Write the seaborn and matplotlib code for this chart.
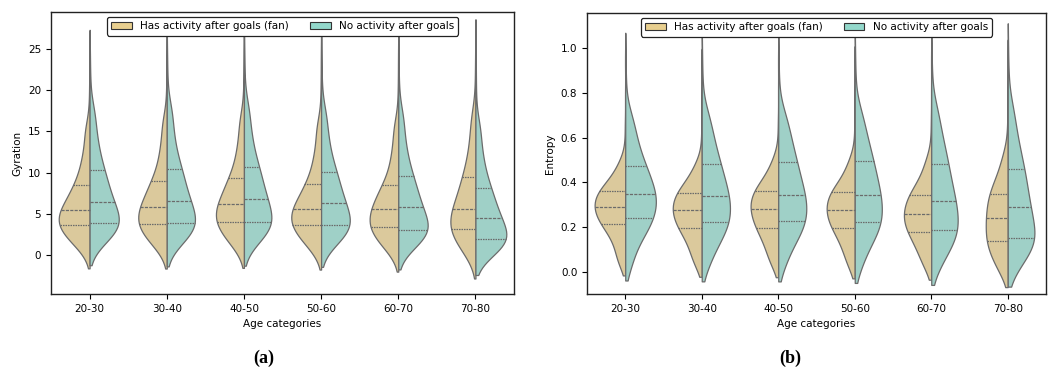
import numpy as np
import pandas as pd
import matplotlib
matplotlib.use("Agg")
import matplotlib.pyplot as plt
from matplotlib.patches import Patch
import seaborn as sns

# ---------------- data (quantile values) ----------------
age_groups = ["20-30", "30-40", "40-50", "50-60", "60-70", "70-80"]
group_names = ["Has activity after goals (fan)", "No activity after goals"]

# how many observations each listed quantile value stands for
# (20 body quantiles of 5% each, then 4 sparse upper-tail values)
point_counts = [20, 20, 20, 20, 20, 20, 20, 20, 20, 20,
                20, 20, 20, 20, 20, 20, 20, 20, 20, 20,
                3, 2, 1, 1]

gyration_fan = [
    [0.9, 1.7, 2.3, 2.8, 3.2, 3.6, 3.95, 4.3, 4.7, 5.1, 5.46, 5.95, 6.5, 7.1, 7.75, 8.5, 9.5, 10.8, 12.5, 15.0, 17.5, 20.0, 22.5, 24.5],
    [1.0, 1.8, 2.4, 2.9, 3.35, 3.76, 4.15, 4.6, 5.0, 5.45, 5.87, 6.4, 7.0, 7.65, 8.3, 9.02, 10.1, 11.5, 13.3, 15.8, 18.0, 20.5, 22.5, 24.5],
    [1.1, 1.9, 2.6, 3.1, 3.6, 4.04, 4.45, 4.85, 5.3, 5.7, 6.15, 6.7, 7.3, 7.95, 8.6, 9.34, 10.4, 11.8, 13.6, 16.1, 18.5, 20.5, 22.5, 24.5],
    [0.8, 1.6, 2.3, 2.8, 3.25, 3.68, 4.05, 4.45, 4.85, 5.25, 5.62, 6.1, 6.65, 7.25, 7.9, 8.62, 9.7, 11.0, 12.8, 15.3, 17.5, 20.0, 22.5, 24.5],
    [0.6, 1.4, 2.05, 2.55, 3.0, 3.4, 3.8, 4.25, 4.7, 5.1, 5.54, 6.05, 6.6, 7.2, 7.85, 8.5, 9.6, 11.0, 12.8, 15.3, 17.5, 20.0, 22.5, 24.5],
    [0.1, 1.0, 1.75, 2.3, 2.8, 3.2, 3.7, 4.2, 4.7, 5.15, 5.62, 6.3, 7.0, 7.75, 8.55, 9.43, 10.6, 12.0, 14.0, 16.5, 19.0, 21.5, 23.5, 25.5],
]
gyration_nofan = [
    [1.6, 2.3, 2.8, 3.2, 3.55, 3.85, 4.3, 4.85, 5.35, 5.9, 6.43, 7.1, 7.85, 8.6, 9.4, 10.28, 11.4, 12.8, 14.6, 17.0, 19.0, 21.0, 23.0, 24.5],
    [1.5, 2.2, 2.75, 3.15, 3.5, 3.85, 4.35, 4.9, 5.45, 6.0, 6.51, 7.2, 7.95, 8.75, 9.55, 10.4, 11.5, 12.9, 14.8, 17.2, 19.0, 21.0, 23.0, 24.5],
    [1.6, 2.35, 2.9, 3.3, 3.7, 4.04, 4.6, 5.15, 5.7, 6.3, 6.84, 7.5, 8.25, 9.05, 9.85, 10.68, 11.8, 13.2, 15.0, 17.4, 19.5, 21.0, 23.0, 24.5],
    [1.4, 2.1, 2.65, 3.05, 3.4, 3.68, 4.2, 4.75, 5.3, 5.85, 6.35, 7.0, 7.75, 8.5, 9.3, 10.11, 11.2, 12.6, 14.4, 16.8, 19.0, 21.0, 23.0, 24.5],
    [1.1, 1.75, 2.2, 2.55, 2.85, 3.07, 3.6, 4.15, 4.7, 5.25, 5.78, 6.45, 7.15, 7.9, 8.7, 9.55, 10.7, 12.1, 14.0, 16.5, 18.5, 20.5, 22.5, 24.5],
    [0.4, 0.8, 1.15, 1.45, 1.75, 1.98, 2.45, 3.0, 3.55, 4.05, 4.53, 5.15, 5.85, 6.6, 7.35, 8.17, 9.3, 10.7, 12.6, 15.2, 18.0, 21.0, 23.5, 25.8],
]
entropy_fan = [
    [0.04, 0.09, 0.135, 0.168, 0.193, 0.213, 0.23, 0.246, 0.261, 0.276, 0.290, 0.304, 0.318, 0.332, 0.347, 0.362, 0.38, 0.40, 0.43, 0.48, 0.55, 0.65, 0.78, 0.94],
    [0.035, 0.08, 0.12, 0.15, 0.175, 0.196, 0.214, 0.23, 0.246, 0.262, 0.277, 0.292, 0.307, 0.322, 0.338, 0.354, 0.373, 0.395, 0.425, 0.475, 0.55, 0.64, 0.78, 0.94],
    [0.035, 0.08, 0.118, 0.149, 0.174, 0.196, 0.215, 0.232, 0.25, 0.267, 0.283, 0.298, 0.314, 0.33, 0.346, 0.362, 0.382, 0.405, 0.435, 0.49, 0.56, 0.66, 0.8, 0.94],
    [0.03, 0.078, 0.118, 0.148, 0.173, 0.195, 0.213, 0.23, 0.246, 0.262, 0.278, 0.293, 0.309, 0.325, 0.341, 0.357, 0.377, 0.40, 0.435, 0.49, 0.57, 0.67, 0.8, 0.95],
    [0.025, 0.07, 0.105, 0.133, 0.157, 0.177, 0.195, 0.212, 0.228, 0.244, 0.259, 0.275, 0.292, 0.31, 0.327, 0.345, 0.367, 0.393, 0.43, 0.49, 0.57, 0.67, 0.8, 0.94],
    [0.0, 0.04, 0.07, 0.096, 0.118, 0.137, 0.158, 0.179, 0.2, 0.221, 0.241, 0.262, 0.284, 0.306, 0.328, 0.350, 0.375, 0.405, 0.445, 0.51, 0.6, 0.7, 0.82, 0.97],
]
entropy_nofan = [
    [0.04, 0.12, 0.165, 0.195, 0.22, 0.242, 0.265, 0.287, 0.308, 0.328, 0.347, 0.368, 0.392, 0.418, 0.445, 0.475, 0.51, 0.555, 0.61, 0.68, 0.75, 0.83, 0.9, 0.99],
    [0.04, 0.105, 0.148, 0.178, 0.201, 0.222, 0.246, 0.27, 0.293, 0.316, 0.338, 0.362, 0.389, 0.418, 0.449, 0.482, 0.52, 0.565, 0.62, 0.69, 0.76, 0.84, 0.91, 0.99],
    [0.04, 0.11, 0.152, 0.182, 0.205, 0.226, 0.25, 0.274, 0.297, 0.32, 0.342, 0.367, 0.395, 0.425, 0.457, 0.49, 0.528, 0.572, 0.625, 0.69, 0.76, 0.84, 0.91, 0.99],
    [0.035, 0.105, 0.148, 0.178, 0.201, 0.222, 0.247, 0.272, 0.297, 0.321, 0.344, 0.37, 0.398, 0.429, 0.461, 0.494, 0.532, 0.575, 0.63, 0.70, 0.77, 0.85, 0.92, 0.99],
    [0.03, 0.085, 0.122, 0.15, 0.171, 0.189, 0.215, 0.242, 0.268, 0.293, 0.317, 0.345, 0.376, 0.41, 0.445, 0.482, 0.523, 0.57, 0.63, 0.71, 0.78, 0.86, 0.92, 0.99],
    [0.025, 0.07, 0.1, 0.122, 0.139, 0.152, 0.18, 0.208, 0.236, 0.263, 0.289, 0.32, 0.354, 0.389, 0.424, 0.460, 0.505, 0.555, 0.62, 0.71, 0.79, 0.87, 0.94, 1.02],
]

# ---------------- style ----------------
fill_colors = ["#DBC99C", "#9FD0C7"]
legend_colors = ["#E8CF8F", "#93D8CB"]
line_gray = "#6b6b6b"

plt.rcParams["font.family"] = ["DejaVu Sans"]
plt.rcParams["font.size"] = 7.5


def build_frame(fan_values, nofan_values):
    parts = []
    for age, fv, nv in zip(age_groups, fan_values, nofan_values):
        for name, vals in ((group_names[0], fv), (group_names[1], nv)):
            parts.append(pd.DataFrame({
                "age": age,
                "group": name,
                "value": np.repeat(np.asarray(vals, float), point_counts),
            }))
    return pd.concat(parts, ignore_index=True)


fig = plt.figure(figsize=(10.54, 3.79), dpi=100)
ax_a = fig.add_axes([0.0484, 0.2243, 0.4393, 0.744])
ax_b = fig.add_axes([0.5569, 0.2243, 0.4355, 0.7414])

panels = [
    (ax_a, gyration_fan, gyration_nofan, "Gyration", (-4.73, 29.5), [0, 5, 10, 15, 20, 25], 1.6),
    (ax_b, entropy_fan, entropy_nofan, "Entropy", (-0.098, 1.156), [0.0, 0.2, 0.4, 0.6, 0.8, 1.0], 1.15),
]

for ax, fan_v, nofan_v, ylabel, ylim, yticks, cut in panels:
    df = build_frame(fan_v, nofan_v)
    sns.violinplot(data=df, x="age", y="value", hue="group",
                   order=age_groups, hue_order=group_names,
                   split=True, inner="quart", palette=fill_colors,
                   saturation=1, cut=cut, bw_adjust=1.3, density_norm="area",
                   linewidth=0.9, linecolor=line_gray,
                   inner_kws=dict(color=line_gray),
                   legend=False, ax=ax)
    ax.set_ylim(*ylim)
    ax.set_yticks(yticks)
    ax.set_xlim(-0.5, 5.5)
    ax.set_xlabel("Age categories")
    ax.set_ylabel(ylabel)
    for sp in ax.spines.values():
        sp.set_color("#222222")
        sp.set_linewidth(1.0)
    handles = [Patch(facecolor=c, edgecolor="#333333", linewidth=0.8) for c in legend_colors]
    leg = ax.legend(handles, group_names, loc="upper center", ncol=2,
                    frameon=True, fancybox=True, framealpha=1)
    leg.get_frame().set_edgecolor("#222222")
    leg.get_frame().set_linewidth(0.9)

fig.text(0.2505, 0.055, "(a)", ha="center", va="center",
         family="Liberation Serif", weight="bold", fontsize=13)
fig.text(0.7495, 0.055, "(b)", ha="center", va="center",
         family="Liberation Serif", weight="bold", fontsize=13)

fig.savefig("out.png", dpi=100, facecolor="white")
